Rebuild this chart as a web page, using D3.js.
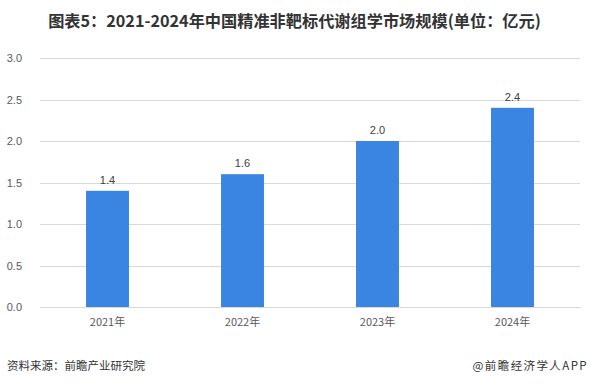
<!DOCTYPE html>
<html>
<head>
<meta charset="utf-8">
<script src="https://cdn.jsdelivr.net/npm/d3@7"></script>
<style>
  body { margin: 0; background: #fff; }
  text { font-family: "Microsoft YaHei", "Noto Sans CJK SC", sans-serif; }
</style>
</head>
<body>
<script>
// chart data
var years = ["2021年", "2022年", "2023年", "2024年"];
var values = [1.4, 1.6, 2.0, 2.4];
var yTicks = [0, 0.5, 1.0, 1.5, 2.0, 2.5, 3.0];
var title = "图表5：2021-2024年中国精准非靶标代谢组学市场规模(单位：亿元)";
var source = "资料来源：前瞻产业研究院";
var brand = "@前瞻经济学人APP";

var width = 590, height = 387;
var margin = { top: 58, right: 10, bottom: 80, left: 40 };

var svg = d3.select("body").append("svg")
  .attr("width", width)
  .attr("height", height);

var x = d3.scaleBand()
  .domain(years)
  .range([margin.left, width - margin.right])
  .paddingInner(0.682)
  .paddingOuter(0.341);

var y = d3.scaleLinear()
  .domain([0, 3])
  .range([height - margin.bottom, margin.top]);

// gridlines
svg.append("g")
  .selectAll("line")
  .data(yTicks)
  .enter().append("line")
    .attr("x1", margin.left)
    .attr("x2", width - margin.right)
    .attr("y1", function(d) { return Math.round(y(d)) + 0.5; })
    .attr("y2", function(d) { return Math.round(y(d)) + 0.5; })
    .attr("stroke", "#d9d9d9")
    .attr("stroke-width", 1);

// y labels
var yAxis = svg.append("g")
  .attr("transform", "translate(" + (margin.left - 15) + ",0)")
  .call(d3.axisLeft(y).tickValues(yTicks).tickFormat(d3.format(".1f")).tickSize(0));
yAxis.select(".domain").remove();
yAxis.selectAll("text")
  .attr("fill", "#595959")
  .style("font-size", "11px")
  .style("font-family", "Arial, 'Liberation Sans', sans-serif");

// faint watermarks
var marks = [[95, 200], [270, 130], [290, 300], [500, 110], [520, 250]];
svg.append("g")
  .selectAll("text")
  .data(marks)
  .enter().append("text")
    .attr("transform", function(d) { return "translate(" + d[0] + "," + d[1] + ") rotate(-30)"; })
    .attr("text-anchor", "middle")
    .attr("fill", "#000")
    .attr("fill-opacity", 0.025)
    .style("font-size", "20px")
    .style("font-weight", "bold")
    .text("前瞻产业研究院");

// bars
svg.append("g")
  .selectAll("rect")
  .data(values)
  .enter().append("rect")
    .attr("x", function(d, i) { return x(years[i]); })
    .attr("y", function(d) { return y(d); })
    .attr("width", x.bandwidth())
    .attr("height", function(d) { return y(0) - y(d); })
    .attr("fill", "#3a84e2");

// value labels
svg.append("g")
  .selectAll("text")
  .data(values)
  .enter().append("text")
    .attr("x", function(d, i) { return x(years[i]) + x.bandwidth() / 2; })
    .attr("y", function(d) { return y(d) - 7; })
    .attr("text-anchor", "middle")
    .attr("fill", "#404040")
    .style("font-size", "11px")
    .style("font-family", "Arial, 'Liberation Sans', sans-serif")
    .text(function(d) { return d3.format(".1f")(d); });

// x axis
var xAxis = svg.append("g")
  .attr("transform", "translate(0," + y(0) + ")")
  .call(d3.axisBottom(x).tickSize(0).tickPadding(11));
xAxis.select(".domain").attr("stroke", "#d9d9d9");
xAxis.selectAll("text")
  .attr("fill", "#595959")
  .style("font-size", "11px")
  .style("font-family", "'Noto Sans CJK SC', sans-serif");

// title
svg.append("text")
  .attr("x", 294.5)
  .attr("y", 27)
  .attr("text-anchor", "middle")
  .attr("fill", "#333")
  .style("font-size", "16.2px")
  .style("font-weight", "bold")
  .text(title);

// footer
svg.append("text")
  .attr("x", 7)
  .attr("y", 370)
  .attr("fill", "#333")
  .style("font-size", "11.5px")
  .text(source);

svg.append("text")
  .attr("x", 588)
  .attr("y", 370)
  .attr("text-anchor", "end")
  .attr("fill", "#333")
  .style("font-size", "11.5px")
  .style("letter-spacing", "1.4px")
  .text(brand);
</script>
</body>
</html>
